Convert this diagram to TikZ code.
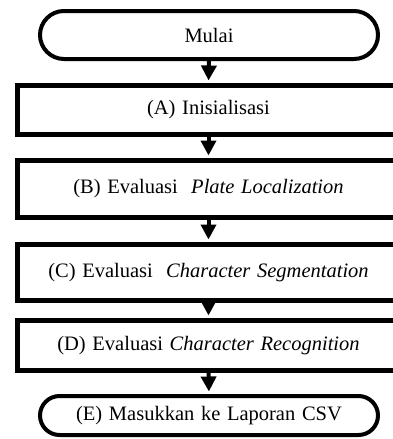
\documentclass[tikz,border=0pt]{standalone}
\usepackage{fontspec}
\setmainfont{Liberation Serif}[WordSpace=1.3]
\usetikzlibrary{arrows.meta}

\tikzset{
  termbox/.style={draw, line width=4pt, rounded corners=#1, minimum width=338pt,
                  inner sep=0pt, font=\fontsize{20.5}{24}\selectfont},
  procbox/.style={draw, line width=5pt, minimum width=382pt,
                  inner sep=0pt, font=\fontsize{20.5}{24}\selectfont},
  flow/.style={line width=4pt, -{Triangle[width=15pt,length=15pt]}, shorten >=2.5pt}
}

\begin{document}
\begin{tikzpicture}[x=1pt, y=-1pt]
  \useasboundingbox (0,0) rectangle (393,439);
  \clip (0,0) rectangle (393,439);

  % start / end terminals
  \node[termbox=24pt, minimum height=48pt] (mulai) at (209,35) {Mulai};
  \node[termbox=19.5pt, minimum height=39pt] (csv) at (209,415.5)
       {(E) Masukkan ke Laporan CSV};

  % processing steps
  \node[procbox, minimum height=49pt] (init) at (208.5,110) {(A) Inisialisasi};
  \node[procbox, minimum height=57pt] (plate) at (208.5,189)
       {(B) Evaluasi\ \ \textit{Plate Localization}};
  \node[procbox, minimum height=56pt] (seg) at (208.5,272.5)
       {(C) Evaluasi\ \ \textit{Character Segmentation}};
  \node[procbox, minimum height=50pt] (rec) at (208.5,345.5)
       {(D) Evaluasi\ \textit{Character Recognition}};

  % flow between steps
  \draw[flow] (mulai.south) -- (init.north);
  \draw[flow] (init.south) -- (plate.north);
  \draw[flow] (plate.south) -- (seg.north);
  \draw[flow] (seg.south) -- (rec.north);
  \draw[flow] (rec.south) -- (csv.north);
\end{tikzpicture}
\end{document}
